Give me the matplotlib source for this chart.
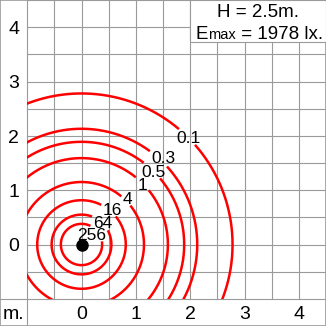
import numpy as np
import matplotlib
matplotlib.use('Agg')
import matplotlib.pyplot as plt
from matplotlib.patches import Rectangle

# ---- data ----
level_labels = ['256', '64', '16', '4', '1', '0.5', '0.3', '0.1']
radii = [0.38, 0.55, 0.815, 1.15, 1.59, 1.89, 2.13, 2.78]
x_ticks = [0, 1, 2, 3, 4]
y_ticks = [0, 1, 2, 3, 4]
unit_label = 'm.'
luminaire = (0.0, 0.0)
height_text = 'H = 2.5m.'
emax_value = 1978

# ---- layout ----
label_xy = [(0.19, 0.20), (0.40, 0.42), (0.57, 0.66), (0.85, 0.86),
            (1.12, 1.11), (1.32, 1.36), (1.51, 1.61), (1.97, 1.98)]

plt.rcParams['font.family'] = ['Liberation Sans', 'DejaVu Sans']

fig = plt.figure(figsize=(3.26, 3.26), dpi=100)
ax = fig.add_axes([0, 0, 1, 1])
ax.set_xlim(-1.5, 4.5)
ax.set_ylim(-1.5, 4.5)
ax.set_xticks([])
ax.set_yticks([])
for s in ax.spines.values():
    s.set_color('#9a9a9a')
    s.set_linewidth(1.2)

grid_col = '#9a9a9a'
for v in np.arange(-1, 4.51, 0.5):
    ax.plot([v, v], [-1, 4.5], color=grid_col, lw=0.8, zorder=1)
    ax.plot([-1, 4.5], [v, v], color=grid_col, lw=0.8, zorder=1)
ax.plot([-1, -1], [-1.5, -1], color=grid_col, lw=0.8, zorder=1)
ax.plot([-1.5, -1], [-1, -1], color=grid_col, lw=0.8, zorder=1)

px_per_unit = 326 / 6.0


def em_data(fs):
    return fs * 100 / 72 / px_per_unit


tick_fs = 14
for t in x_ticks:
    ax.text(t, -1.25 - 0.358 * em_data(tick_fs), str(t), fontsize=tick_fs,
            ha='center', va='baseline')
for t in y_ticks:
    ax.text(-1.25, t - 0.358 * em_data(tick_fs), str(t), fontsize=tick_fs,
            ha='center', va='baseline')
ax.text(-1.25, -1.25 - 0.358 * em_data(tick_fs), unit_label, fontsize=tick_fs,
        ha='center', va='baseline')

# header box
ax.add_patch(Rectangle((2.0, 3.73), 2.5, 0.77, facecolor='white',
                       edgecolor=grid_col, lw=0.8, zorder=6))
hfs = 13.5
ax.text(3.25, 4.18, height_text, fontsize=hfs, ha='center', va='baseline', zorder=7)
tE = ax.text(2.10, 3.78, 'E', fontsize=hfs, ha='left', va='baseline', zorder=7)

# contour labels
lab_fs = 12.5
lab_texts = []
for lab, (lx, ly) in zip(level_labels, label_xy):
    by = ly - 0.358 * em_data(lab_fs)
    t = ax.text(lx, by, lab, fontsize=lab_fs, ha='center', va='baseline', zorder=4)
    lab_texts.append((t, by))

fig.canvas.draw()
r = fig.canvas.get_renderer()
inv = ax.transData.inverted()

# rest of Emax line
ext = tE.get_window_extent(r)
x1 = inv.transform((ext.x1, ext.y0))[0]
tm = ax.text(x1, 3.78, 'max', fontsize=10.5, ha='left', va='baseline', zorder=7)
fig.canvas.draw()
ext = tm.get_window_extent(r)
x2 = inv.transform((ext.x1, ext.y0))[0]
ax.text(x2, 3.78, ' = %d lx.' % emax_value, fontsize=hfs, ha='left', va='baseline', zorder=7)

# label boxes for breaking the lines
pad = 1.5 / px_per_unit
boxes = []
for t, by in lab_texts:
    e = t.get_window_extent(r)
    (bx0, _), (bx1, _) = inv.transform([(e.x0, e.y0), (e.x1, e.y1)])
    cap = 0.716 * em_data(lab_fs)
    boxes.append((bx0 - pad, bx1 + pad, by - pad, by + cap + pad))

clip = Rectangle((-1, -1), 5.5, 5.5, transform=ax.transData)
theta = np.linspace(0, 2 * np.pi, 3000)
for rad in radii:
    xs = luminaire[0] + rad * np.cos(theta)
    ys = luminaire[1] + rad * np.sin(theta)
    mask = np.zeros_like(xs, dtype=bool)
    for (a0, a1, b0, b1) in boxes:
        mask |= (xs > a0) & (xs < a1) & (ys > b0) & (ys < b1)
    xs = np.where(mask, np.nan, xs)
    ys = np.where(mask, np.nan, ys)
    ln, = ax.plot(xs, ys, color='#ff0000', lw=1.8, zorder=3, solid_capstyle='butt')
    ln.set_clip_path(clip)

ax.plot([luminaire[0]], [luminaire[1]], 'o', color='black', ms=8, zorder=5)

fig.savefig('out.png', dpi=100)
